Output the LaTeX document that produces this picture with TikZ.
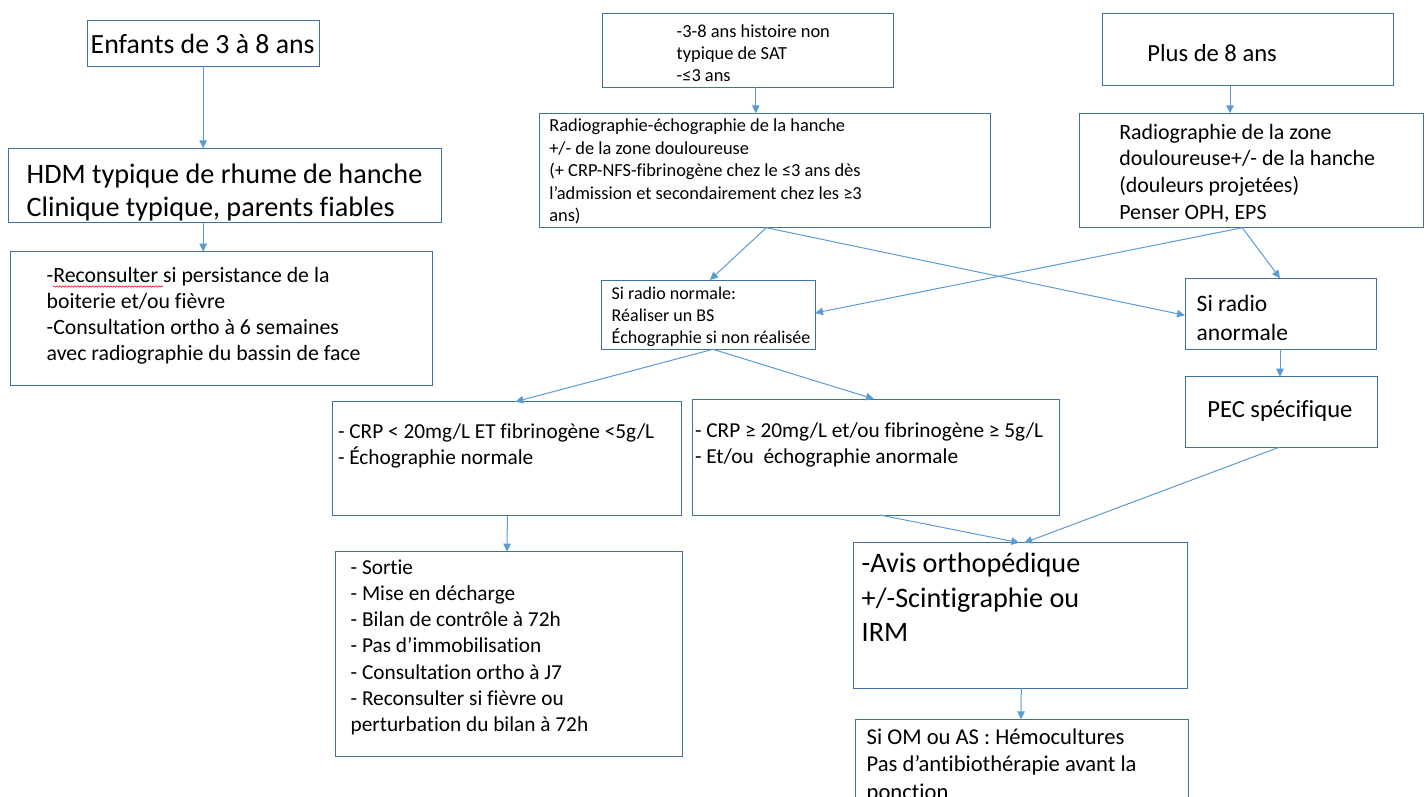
\documentclass[tikz,border=0pt]{standalone}
\usepackage{fontspec}
\setmainfont{Carlito}[Ligatures={NoCommon}]
\usetikzlibrary{arrows.meta,calc,decorations.pathmorphing}
\definecolor{boxline}{HTML}{41719C}
\definecolor{flow}{HTML}{5B9BD5}
\tikzset{
  box/.style={draw=boxline, line width=1pt, rectangle, inner sep=0pt, outer sep=0pt, anchor=north west},
  txt/.style={anchor=north west, inner sep=0pt, outer sep=0pt, align=left, text=black},
  flowarrow/.style={draw=flow, line width=1pt, -{Triangle[length=8pt,width=7.5pt]}},
}
% text block: name, x, first baseline, font size, line spacing, text
\newcommand\tblock[6]{\node[txt, font=\fontsize{#4}{#5}\selectfont] (#1) at (#2,{#3-0.7*#5}) {\strut #6};}
\begin{document}
\begin{tikzpicture}[x=1pt,y=-1pt]
\useasboundingbox (0,0) rectangle (1427,796);
\clip (0,0) rectangle (1427,796);

% boxes
\node[box, minimum width=231.7pt, minimum height=46pt]   (enf)  at (87.3,20) {};
\node[box, minimum width=433.4pt, minimum height=74.4pt] (hdm)  at (8.3,148.3) {};
\node[box, minimum width=422pt,   minimum height=134pt]  (rec)  at (10,251.7) {};
\node[box, minimum width=291pt,   minimum height=74pt]   (tm)   at (602.3,13.3) {};
\node[box, minimum width=450.7pt, minimum height=114.4pt](rx)   at (539.3,113.3) {};
\node[box, minimum width=290.6pt, minimum height=72.4pt] (plus) at (1102.7,13.3) {};
\node[box, minimum width=344pt,   minimum height=114.4pt](rxr)  at (1079.3,113.3) {};
\node[box, minimum width=214pt,   minimum height=69.3pt] (srn)  at (601,280) {};
\node[box, minimum width=191pt,   minimum height=71pt]   (sra)  at (1185,278.3) {};
\node[box, minimum width=192.3pt, minimum height=70.6pt] (pec)  at (1185,376.7) {};
\node[box, minimum width=349pt,   minimum height=114pt]  (crpl) at (332.4,401.7) {};
\node[box, minimum width=367.3pt, minimum height=116pt]  (crpg) at (692,399) {};
\node[box, minimum width=347.3pt, minimum height=205pt]  (sort) at (335,551.7) {};
\node[box, minimum width=334.4pt, minimum height=145.6pt](avis) at (853.3,542.7) {};
\node[box, minimum width=333.3pt, minimum height=110pt]  (om)   at (855,719.3) {};

% texts
\tblock{tenf}{90.7}{53.3}{27.8}{33}{Enfants de 3 à 8 ans}
\tblock{thdm}{26.7}{183.3}{28.2}{33}{HDM typique de rhume de hanche\\Clinique typique, parents fiables}
\tblock{trec}{46.7}{282.7}{21.8}{26}{-Reconsulter si persistance de la\\boiterie et/ou fièvre\\-Consultation ortho à 6 semaines\\avec radiographie du bassin de face}
\tblock{ttm}{676.7}{37.3}{18.4}{22.2}{-3-8 ans histoire non\\typique de SAT\\-≤3 ans}
\tblock{trx}{549.3}{131.7}{18.4}{22.5}{Radiographie-échographie de la hanche\\+/- de la zone douloureuse\\(+ CRP-NFS-fibrinogène chez le ≤3 ans dès\\l’admission et secondairement chez les ≥3\\ans)}
\tblock{tplus}{1147.3}{61}{24.6}{30}{Plus de 8 ans}
\tblock{trxr}{1119.3}{139}{21.9}{26.7}{Radiographie de la zone\\douloureuse+/- de la hanche\\(douleurs projetées)\\Penser OPH, EPS}
\tblock{tsrn}{611.7}{299.3}{18}{22}{Si radio normale:\\Réaliser un BS\\Échographie si non réalisée}
\tblock{tsra}{1196.7}{311.7}{23.5}{28.3}{Si radio\\anormale}
\tblock{tpec}{1207.3}{417.3}{24.6}{30}{PEC spécifique}
\tblock{tcrpl}{338}{438.3}{21.3}{26}{- CRP < 20mg/L ET fibrinogène <5g/L\\- Échographie normale}
\tblock{tcrpg}{695}{437}{21.3}{26.5}{- CRP ≥ 20mg/L et/ou fibrinogène ≥ 5g/L\\- Et/ou\ \ échographie anormale}
\tblock{tsort}{350.7}{574.3}{21.3}{26.2}{- Sortie\\- Mise en décharge\\- Bilan de contrôle à 72h\\- Pas d’immobilisation\\- Consultation ortho à J7\\- Reconsulter si fièvre ou\\perturbation du bilan à 72h}
\tblock{tavis}{861.7}{572.7}{28.2}{34.5}{-Avis orthopédique\\+/-Scintigraphie ou\\IRM}
\tblock{tom}{866.7}{744}{22.6}{27.7}{Si OM ou AS : Hémocultures\\Pas d’antibiothérapie avant la\\ponction}

% spell-check squiggle under the first word
\draw[red!85!black, line width=0.5pt, decorate, decoration={snake, amplitude=0.7pt, segment length=3pt}] (53,286.5) -- (163,286.5);

% connectors
\draw[flowarrow] (enf.south) -- (enf.south |- hdm.north);
\draw[flowarrow] (enf.south |- hdm.south) -- (enf.south |- rec.north);
\draw[flowarrow] ([xshift=8pt]tm.south) -- ([xshift=8pt]tm.south |- rx.north);
\draw[flowarrow] ([xshift=-18pt]plus.south) -- ([xshift=-18pt]plus.south |- rxr.north);
\coordinate (rxout) at ($(rx.south west)+(227,0)$);
\coordinate (rxrout) at ($(rxr.south west)+(163,0)$);
\draw[flowarrow] (rxout) -- ($(srn.north west)+(109,0)$);
\draw[flowarrow] (rxout) -- ($(sra.north west)+(0,37)$);
\draw[flowarrow] (rxrout) -- ($(srn.north east)+(0,33)$);
\draw[flowarrow] (rxrout) -- ($(sra.north west)+(95,0)$);
\draw[flowarrow] ($(sra.south west)+(95,0)$) -- ($(pec.north west)+(95,0)$);
\coordinate (srnout) at ($(srn.south west)+(112,0)$);
\draw[flowarrow] (srnout) -- ($(crpl.north west)+(183,0)$);
\draw[flowarrow] (srnout) -- ($(crpg.north west)+(182,0)$);
\draw[flowarrow] ($(crpl.south west)+(175,0)$) -- ($(sort.north west)+(172,0)$);
\draw[flowarrow] ($(crpg.south west)+(188,0)$) -- ($(avis.north west)+(166,0)$);
\draw[flowarrow] ($(pec.south west)+(94,0)$) -- ($(avis.north west)+(171,0)$);
\draw[flowarrow] ($(avis.south west)+(168,0)$) -- ($(om.north west)+(166,0)$);
\end{tikzpicture}
\end{document}
